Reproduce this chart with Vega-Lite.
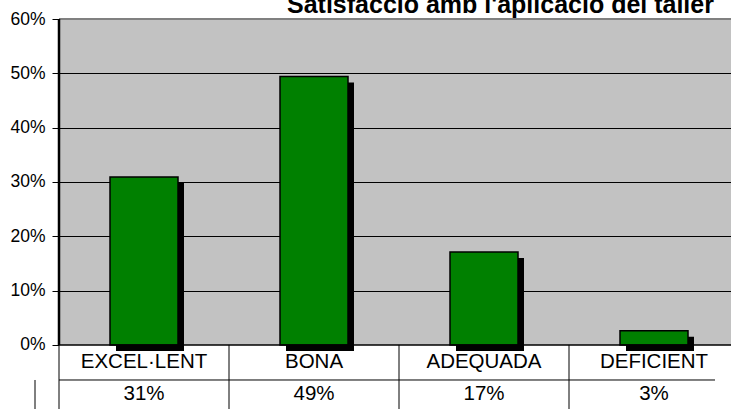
{
  "$schema": "https://vega.github.io/schema/vega-lite/v6.json",
  "width": 680,
  "height": 390,
  "autosize": {"type": "none"},
  "padding": {"left": 59, "top": 19, "right": 0, "bottom": 0},
  "background": "white",
  "config": {
    "font": "Liberation Sans",
    "view": {"stroke": null, "fill": "#c2c2c2"},
    "axisY": {
      "format": ".0%",
      "grid": true,
      "gridColor": "black",
      "gridWidth": 1,
      "gridOpacity": 1,
      "domain": false,
      "tickColor": "black",
      "tickSize": 7,
      "tickWidth": 1,
      "labelFontSize": 17.5,
      "labelColor": "black",
      "labelPadding": 7
    }
  },
  "data": {
    "values": [
      {"cat": "EXCEL·LENT", "value": 0.309, "label": "31%"},
      {"cat": "BONA", "value": 0.494, "label": "49%"},
      {"cat": "ADEQUADA", "value": 0.171, "label": "17%"},
      {"cat": "DEFICIENT", "value": 0.026, "label": "3%"}
    ]
  },
  "layer": [
    {
      "data": {"values": [{}]},
      "mark": {"type": "rect", "fill": "white"},
      "encoding": {
        "y": {
          "datum": 0,
          "type": "quantitative",
          "title": null,
          "scale": {"domain": [-0.1178, 0.6], "nice": false, "zero": false},
          "axis": {"values": [0, 0.1, 0.2, 0.3, 0.4, 0.5, 0.6]}
        },
        "y2": {"datum": -0.1178}
      }
    },
    {
      "mark": {"type": "bar", "color": "black", "xOffset": 6, "yOffset": 6, "width": {"band": 0.4}},
      "encoding": {
        "x": {"field": "cat", "type": "nominal", "sort": ["EXCEL·LENT", "BONA", "ADEQUADA", "DEFICIENT"], "scale": {"paddingInner": 0, "paddingOuter": 0}, "axis": null},
        "y": {"field": "value", "type": "quantitative", "title": null, "axis": {"values": [0, 0.1, 0.2, 0.3, 0.4, 0.5, 0.6]}}
      }
    },
    {
      "mark": {"type": "bar", "fill": "#008000", "stroke": "black", "strokeWidth": 1.5, "width": {"band": 0.4}},
      "encoding": {
        "x": {"field": "cat", "type": "nominal", "sort": ["EXCEL·LENT", "BONA", "ADEQUADA", "DEFICIENT"], "axis": null},
        "y": {"field": "value", "type": "quantitative", "title": null, "axis": {"values": [0, 0.1, 0.2, 0.3, 0.4, 0.5, 0.6]}}
      }
    },
    {
      "data": {"values": [{}]},
      "mark": {"type": "rule", "color": "black", "strokeWidth": 1.5},
      "encoding": {"y": {"datum": 0, "type": "quantitative", "title": null, "axis": {"values": [0, 0.1, 0.2, 0.3, 0.4, 0.5, 0.6]}}}
    },
    {
      "data": {"values": [{}]},
      "mark": {"type": "rule", "color": "#808080", "strokeWidth": 2},
      "encoding": {"y": {"datum": 0.6, "type": "quantitative", "title": null, "axis": {"values": [0, 0.1, 0.2, 0.3, 0.4, 0.5, 0.6]}}}
    },
    {
      "data": {"values": [{}]},
      "mark": {"type": "rule", "color": "black", "strokeWidth": 1, "xOffset": -24},
      "encoding": {"y": {"datum": -0.0644, "type": "quantitative", "title": null, "axis": {"values": [0, 0.1, 0.2, 0.3, 0.4, 0.5, 0.6]}}}
    },
    {
      "mark": {"type": "rule", "color": "black", "strokeWidth": 1},
      "encoding": {
        "x": {"field": "cat", "type": "nominal", "sort": ["EXCEL·LENT", "BONA", "ADEQUADA", "DEFICIENT"], "bandPosition": 0, "axis": null},
        "y": {"datum": 0, "type": "quantitative", "title": null, "axis": {"values": [0, 0.1, 0.2, 0.3, 0.4, 0.5, 0.6]}},
        "y2": {"datum": -0.1178}
      }
    },
    {
      "data": {"values": [{"cat": "EXCEL·LENT"}]},
      "mark": {"type": "rule", "color": "black", "strokeWidth": 1, "xOffset": -24},
      "encoding": {
        "x": {"field": "cat", "type": "nominal", "sort": ["EXCEL·LENT", "BONA", "ADEQUADA", "DEFICIENT"], "bandPosition": 0, "axis": null},
        "y": {"datum": -0.0644, "type": "quantitative", "title": null, "axis": {"values": [0, 0.1, 0.2, 0.3, 0.4, 0.5, 0.6]}},
        "y2": {"datum": -0.1178}
      }
    },
    {
      "data": {"values": [{"cat": "EXCEL·LENT"}]},
      "mark": {"type": "rule", "color": "black", "strokeWidth": 2.5},
      "encoding": {
        "x": {"field": "cat", "type": "nominal", "sort": ["EXCEL·LENT", "BONA", "ADEQUADA", "DEFICIENT"], "bandPosition": 0, "axis": null},
        "y": {"datum": 0, "type": "quantitative", "title": null, "axis": {"values": [0, 0.1, 0.2, 0.3, 0.4, 0.5, 0.6]}},
        "y2": {"datum": 0.6}
      }
    },
    {
      "data": {"values": [{"cat": "EXCEL·LENT", "title": "Satisfacció amb l'aplicació del taller"}]},
      "mark": {"type": "text", "fontSize": 25, "fontWeight": "bold", "color": "black", "align": "left", "baseline": "alphabetic", "dx": 228},
      "encoding": {
        "x": {"field": "cat", "type": "nominal", "sort": ["EXCEL·LENT", "BONA", "ADEQUADA", "DEFICIENT"], "bandPosition": 0, "axis": null},
        "y": {"datum": 0.611, "type": "quantitative", "title": null, "axis": {"values": [0, 0.1, 0.2, 0.3, 0.4, 0.5, 0.6]}},
        "text": {"field": "title"}
      }
    },
    {
      "mark": {"type": "text", "fontSize": 20.5, "color": "black", "baseline": "middle"},
      "encoding": {
        "x": {"field": "cat", "type": "nominal", "sort": ["EXCEL·LENT", "BONA", "ADEQUADA", "DEFICIENT"], "axis": null},
        "y": {"datum": -0.0322, "type": "quantitative", "title": null, "axis": {"values": [0, 0.1, 0.2, 0.3, 0.4, 0.5, 0.6]}},
        "text": {"field": "cat"}
      }
    },
    {
      "mark": {"type": "text", "fontSize": 20.5, "color": "black", "baseline": "middle"},
      "encoding": {
        "x": {"field": "cat", "type": "nominal", "sort": ["EXCEL·LENT", "BONA", "ADEQUADA", "DEFICIENT"], "axis": null},
        "y": {"datum": -0.0911, "type": "quantitative", "title": null, "axis": {"values": [0, 0.1, 0.2, 0.3, 0.4, 0.5, 0.6]}},
        "text": {"field": "label"}
      }
    }
  ]
}
